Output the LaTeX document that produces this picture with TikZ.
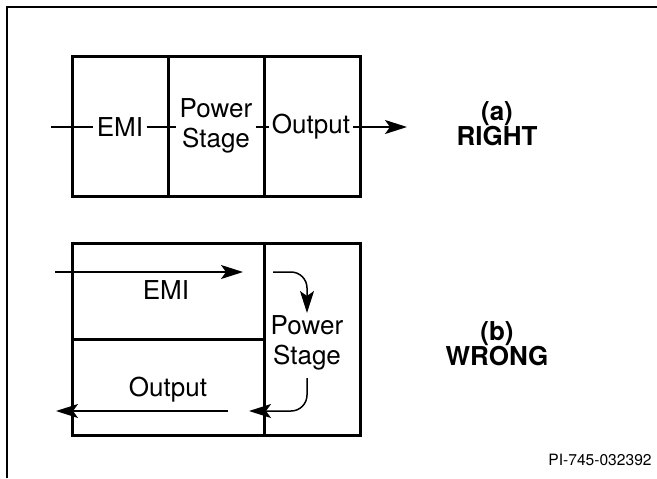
\documentclass[tikz,border=0pt]{standalone}
\usepackage{fontspec}
\setmainfont{TeX Gyre Heros}
\usetikzlibrary{arrows.meta}
\tikzset{
  cell/.style={line width=1.5pt},
  blk/.style={font=\fontsize{13}{15}\selectfont, align=center, inner sep=1.5pt},
  tag/.style={font=\fontsize{13}{12.5}\selectfont\bfseries, align=center},
  flow/.style={line width=0.75pt},
  flowarr/.style={flow, -{Stealth[length=11pt, width=7pt, inset=2.5pt]}},
}

\begin{document}
\begin{tikzpicture}[x=0.5pt, y=-0.5pt]
      \useasboundingbox (0,0) rectangle (657,478);

      % --- Frame ---
      \draw[line width=1pt] (7,478) -- (7,7) -- (657,7);

      % --- (a) Cells ---
      \draw[cell] (72,56) rectangle (360,196);
      \draw[cell] (168,56) -- (168,196);
      \draw[cell] (264,56) -- (264,196);

      % --- (a) Text and Path ---
      \node[blk] (emiA) at (120,127)  {EMI};
      \node[blk] (powA) at (216,126)  {Power\\Stage};
      \node[blk] (outA) at (311,127)  {Output};
      \coordinate (inA) at (51,127);
      \coordinate (endA) at (407,127);
      \draw[flow] (inA) -- (emiA);
      \draw[flow] (emiA) -- (emiA -| powA.west);
      \draw[flow] (powA.east |- outA) -- (outA);
      \draw[flowarr] (outA) -- (endA);

      % --- (b) Cells ---
      \draw[cell] (72,243) rectangle (360,435);
      \draw[cell] (264,243) -- (264,435);
      \draw[cell] (72,339) -- (264,339);

      % --- (b) Text and Path ---
      \node[blk] (emiB) at (166,290)  {EMI};
      \node[blk] (outB) at (168,390)  {Output};
      \node[blk] (powB) at (307,343)  {Power\\Stage};
      \coordinate (inB) at (55,272);
      \coordinate (tipB) at (243,272);
      \coordinate (bendA) at (273,272);
      \coordinate (downA) at (307,313);
      \coordinate (bendB) at (307,378);
      \coordinate (leftB) at (249,411);
      \coordinate (startO) at (228,411);
      \coordinate (endO) at (56,411);
      \draw[flowarr] (inB) -- (tipB);
      \draw[flowarr, rounded corners=8pt] (bendA) -| (downA);
      \draw[flowarr, rounded corners=8pt] (bendB) |- (leftB);
      \draw[flowarr] (startO) -- (endO);

      % --- Labels ---
      \node[tag] (right) at (497,124)   {(a)\\RIGHT};
      \node[tag] (wrong) at (497,344)   {(b)\\WRONG};
      \node[font=\fontsize{7.8}{9}\selectfont] (pinum) at (600,460) {PI-745-032392};
\end{tikzpicture}
\end{document}
